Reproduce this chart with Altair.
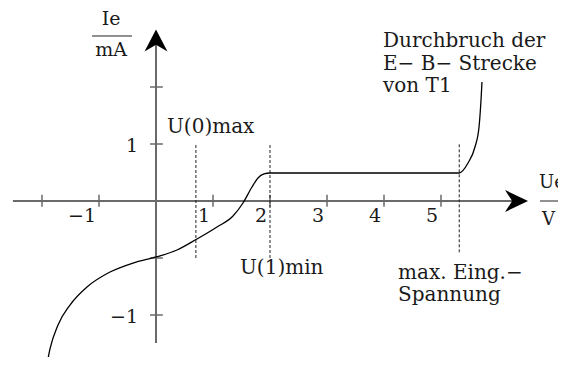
import altair as alt
import pandas as pd

# ---- data (in axis units) ----
curve_u = [-1.912, -1.860, -1.719, -1.509, -1.211, -0.807, -0.404, 0.0, 0.368, 0.719,
           1.070, 1.351, 1.526, 1.684, 1.789, 1.895, 2.0, 5.316, 5.474, 5.596, 5.667,
           5.702, 5.719]
curve_v = [-2.860, -2.596, -2.175, -1.825, -1.509, -1.246, -1.088, -0.982, -0.860, -0.667,
           -0.456, -0.263, -0.035, 0.246, 0.404, 0.474, 0.491, 0.491, 0.667, 0.947, 1.298,
           1.772, 2.088]

x_ticks = [-2, -1, 1, 2, 3, 4, 5]
x_tick_labels = [("−1", -1), ("1", 1), ("2", 2), ("3", 3), ("4", 4), ("5", 5)]
y_ticks = [2, 1, -1, -2]
y_tick_labels = [("1", 1), ("−1", -2)]

dash_x = [0.70, 2.0, 5.32]
dash_top = [1.0, 1.0, 1.0]
dash_bottom = [-1.0, -1.0, -0.90]

notes_text = [["U(0)max"], ["U(1)min"], ["max. Eing.−", "Spannung"],
              ["Durchbruch der", "E− B− Strecke", "von T1"]]
notes_u = [0.193, 1.474, 4.246, 3.982]
notes_v = [1.19, -1.28, -1.368, 2.70]

XDOM = [-148 / 57, 402 / 57]
YDOM = [(193 - 349) / 57, 193 / 57]
W, H = 550, 349

xs = alt.Scale(domain=XDOM, nice=False, zero=False)
ys = alt.Scale(domain=YDOM, nice=False, zero=False)
FONT = "DejaVu Serif"
AXC = "#6a6a6a"


def X(f="x"):
    return alt.X(f"{f}:Q", scale=xs, axis=None)


def Y(f="y"):
    return alt.Y(f"{f}:Q", scale=ys, axis=None)


# axes lines
axes_df = pd.DataFrame({"x": [-2.51, 0.0], "x2": [6.3, 0.0], "y": [0.0, -2.49], "y2": [0.0, 2.8]})
axes = alt.Chart(axes_df).mark_rule(color=AXC, strokeWidth=2).encode(
    x=X(), x2="x2:Q", y=Y(), y2="y2:Q")

xt_df = pd.DataFrame({"x": x_ticks, "y": [-0.1] * len(x_ticks), "y2": [0.11] * len(x_ticks)})
xt = alt.Chart(xt_df).mark_rule(color=AXC, strokeWidth=1.5).encode(x=X(), y=Y(), y2="y2:Q")
yt_df = pd.DataFrame({"y": y_ticks, "x": [-0.105] * len(y_ticks), "x2": [0.12] * len(y_ticks)})
yt = alt.Chart(yt_df).mark_rule(color=AXC, strokeWidth=1.5).encode(x=X(), x2="x2:Q", y=Y())

xl_df = pd.DataFrame({"t": [a for a, _ in x_tick_labels], "x": [b for _, b in x_tick_labels],
                      "y": [0] * len(x_tick_labels)})
xl = alt.Chart(xl_df).mark_text(font=FONT, fontSize=19, align="right", baseline="alphabetic",
                                dx=-3, dy=21, color="#1a1a1a").encode(x=X(), y=Y(), text="t:N")
yl_df = pd.DataFrame({"t": [a for a, _ in y_tick_labels], "y": [b for _, b in y_tick_labels],
                      "x": [0] * len(y_tick_labels)})
yl = alt.Chart(yl_df).mark_text(font=FONT, fontSize=19, align="right", baseline="middle",
                                dx=-18, dy=2, color="#1a1a1a").encode(x=X(), y=Y(), text="t:N")

dash_df = pd.DataFrame({"x": dash_x, "y": dash_bottom, "y2": dash_top})
dashes = alt.Chart(dash_df).mark_rule(color="#222", strokeWidth=1, strokeDash=[3, 2]).encode(
    x=X(), y=Y(), y2="y2:Q")

curve_df = pd.DataFrame({"x": curve_u, "y": curve_v, "o": list(range(len(curve_u)))})
curve = alt.Chart(curve_df).mark_line(color="black", strokeWidth=1.3, interpolate="monotone",
                                      clip=True).encode(x=X(), y=Y(), order="o:Q")

up_df = pd.DataFrame({"x": [0.0], "y": [2.816]})
up = alt.Chart(up_df).mark_point(shape="M0,-0.96L1,0.96L0,0.38L-1,0.96Z", size=529,
                                 filled=True, color="black", opacity=1).encode(x=X(), y=Y())
rt_df = pd.DataFrame({"x": [6.325], "y": [0.0]})
rt = alt.Chart(rt_df).mark_point(shape="M1,0L-1,0.96L-0.38,0L-1,-0.96Z", size=529,
                                 filled=True, color="black", opacity=1).encode(x=X(), y=Y())

notes_df = pd.DataFrame({"t": notes_text, "x": notes_u, "y": notes_v})
notes = alt.Chart(notes_df).mark_text(font=FONT, fontSize=20, align="left", baseline="alphabetic",
                                      lineHeight=22.5, color="#1a1a1a").encode(x=X(), y=Y(), text="t")

# unit fractions
frac_df = pd.DataFrame({"t": ["Ie", "mA"], "x": [-0.789, -0.789], "y": [3.19, 2.65]})
frac = alt.Chart(frac_df).mark_text(font=FONT, fontSize=19, align="center",
                                    baseline="middle", color="#1a1a1a").encode(x=X(), y=Y(), text="t:N")
frac2_df = pd.DataFrame({"t": ["Ue", "V"], "x": [6.72, 6.77], "y": [0.316, -0.333]})
frac2 = alt.Chart(frac2_df).mark_text(font=FONT, fontSize=18, align="left",
                                      baseline="middle", color="#1a1a1a").encode(x=X(), y=Y(), text="t:N")
fl_df = pd.DataFrame({"x": [-1.123, 6.737], "x2": [-0.421, 7.3], "y": [2.895, 0.0]})
fl = alt.Chart(fl_df).mark_rule(color="#222", strokeWidth=1).encode(x=X(), x2="x2:Q", y=Y())

chart = alt.layer(axes, xt, yt, dashes, curve, up, rt, xl, yl, notes, frac, frac2, fl).properties(
    width=W, height=H, autosize=alt.AutoSizeParams(type="none"), padding=0
).configure_view(stroke=None)

chart.save("out.html", embed_options={"renderer": "svg", "actions": False})
